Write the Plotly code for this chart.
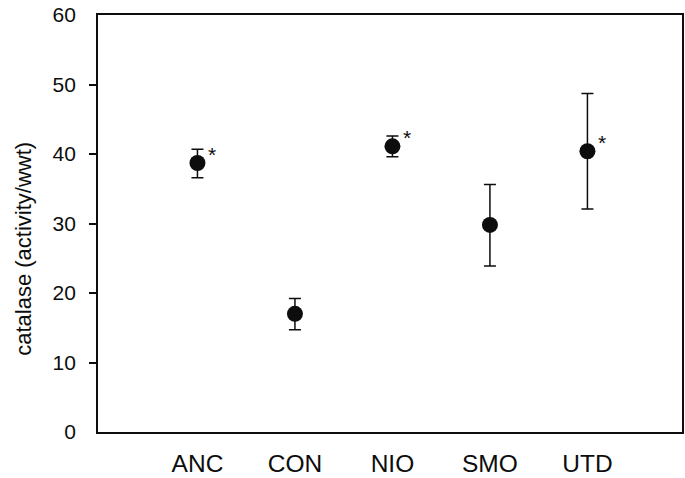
import plotly.graph_objects as go

# Catalase activity by site: mean and error half-width
sites = ["ANC", "CON", "NIO", "SMO", "UTD"]
catalase = [38.7, 17.0, 41.1, 29.8, 40.4]
err_hi = [2.0, 2.2, 1.5, 5.8, 8.3]
err_lo = [2.1, 2.3, 1.5, 5.9, 8.3]
significant = [True, False, True, False, True]

y_labels = [0, 10, 20, 30, 40, 50, 60]
y_tickmarks = [10, 20, 30, 40, 50]

FONT = "Liberation Sans, Arial, Helvetica, sans-serif"
INK = "#0d0d0d"

xpos = list(range(len(sites)))

fig = go.Figure()
fig.add_trace(go.Scatter(
    x=xpos,
    y=catalase,
    mode="markers",
    marker=dict(symbol="circle", size=16, color=INK, line=dict(width=0)),
    error_y=dict(
        type="data",
        symmetric=False,
        array=err_hi,
        arrayminus=err_lo,
        color=INK,
        thickness=1.5,
        width=6,
    ),
    showlegend=False,
    hoverinfo="skip",
))

# Invisible trace on the overlay axis so that its tick marks are drawn
fig.add_trace(go.Scatter(
    x=[xpos[0]], y=[catalase[0]], yaxis="y2", mode="markers",
    marker=dict(opacity=0), showlegend=False, hoverinfo="skip",
))

# Asterisks marking significant differences
annotations = []
for xi, v, sig in zip(xpos, catalase, significant):
    if sig:
        annotations.append(dict(
            x=xi, y=v, xref="x", yref="y",
            text="*", showarrow=False,
            font=dict(family=FONT, size=21, color=INK),
            xshift=15, yshift=9,
            xanchor="center", yanchor="middle",
        ))

# Rotated y-axis label
annotations.append(dict(
    x=-0.128, y=0.44, xref="paper", yref="paper",
    text="catalase (activity/wwt)", showarrow=False, textangle=-90,
    font=dict(family=FONT, size=22, color=INK),
    xanchor="center", yanchor="middle",
))

fig.update_layout(
    width=685,
    height=478,
    margin=dict(l=98, r=1, t=15, b=43),
    paper_bgcolor="white",
    plot_bgcolor="white",
    font=dict(family=FONT, color=INK),
    annotations=annotations,
    xaxis=dict(
        range=[-1.02, 4.97],
        tickmode="array",
        tickvals=xpos,
        ticktext=sites,
        ticks="",
        showgrid=False,
        zeroline=False,
        showline=True,
        mirror=True,
        linecolor=INK,
        linewidth=1.8,
        tickfont=dict(family=FONT, size=24.5, color=INK),
        ticklabelstandoff=9,
    ),
    yaxis=dict(
        range=[0, 60],
        tickmode="array",
        tickvals=y_labels,
        ticktext=[str(t) for t in y_labels],
        ticks="",
        showgrid=False,
        zeroline=False,
        showline=True,
        mirror=True,
        linecolor=INK,
        linewidth=1.8,
        tickfont=dict(family=FONT, size=21, color=INK),
        ticklabelstandoff=16,
    ),
    yaxis2=dict(
        range=[0, 60],
        overlaying="y",
        side="left",
        tickmode="array",
        tickvals=y_tickmarks,
        showticklabels=False,
        ticks="outside",
        ticklen=8,
        tickwidth=1.5,
        tickcolor=INK,
        showgrid=False,
        zeroline=False,
        showline=False,
    ),
)

fig.write_html("out.html")
